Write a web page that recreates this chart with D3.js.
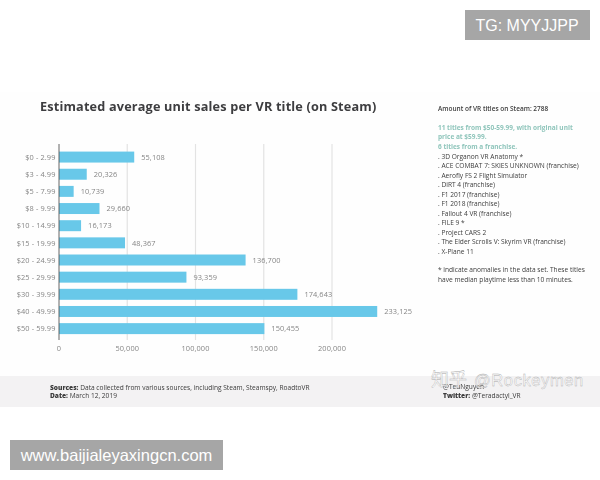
<!DOCTYPE html>
<html><head><meta charset="utf-8">
<script src="https://cdn.jsdelivr.net/npm/d3@7/dist/d3.min.js"></script>
<style>html,body{margin:0;padding:0;background:#fff}svg{display:block}text{font-family:"Open Sans",Lato,sans-serif}</style>
</head><body><svg id="c" width="600" height="480"></svg>
<script>
const categories=["$0 - 2.99","$3 - 4.99","$5 - 7.99","$8 - 9.99","$10 - 14.99","$15 - 19.99","$20 - 24.99","$25 - 29.99","$30 - 39.99","$40 - 49.99","$50 - 59.99"];
const values=[55108,20326,10739,29660,16173,48367,136700,93359,174643,233125,150455];
const xTicks=[0,50000,100000,150000,200000];
const titleText="Estimated average unit sales per VR title (on Steam)";
const sideHead=["Amount of VR titles on Steam: 2788"];
const sideTeal=["11 titles from $50-59.99, with original unit","price at $59.99.","6 titles from a franchise."];
const sideList=[". 3D Organon VR Anatomy *",". ACE COMBAT 7: SKIES UNKNOWN (franchise)",". Aerofly FS 2 Flight Simulator",". DiRT 4 (franchise)",". F1 2017 (franchise)",". F1 2018 (franchise)",". Fallout 4 VR (franchise)",". FILE 9 *",". Project CARS 2",". The Elder Scrolls V: Skyrim VR (franchise)",". X-Plane 11"];
const sideNote=["* indicate anomalies in the data set. These titles","have median playtime less than 10 minutes."];

const svg=d3.select("#c");
const defs=svg.append("defs");
defs.append("filter").attr("id","soft").append("feGaussianBlur").attr("stdDeviation",0.35);
const g=svg.append("g").attr("filter","url(#soft)");
g.append("rect").attr("x",0).attr("y",92).attr("width",600).attr("height",284).attr("fill","#fefefe");
g.append("rect").attr("x",0).attr("y",376).attr("width",600).attr("height",31).attr("fill","#f3f2f3");

const x=d3.scaleLinear().domain([0,200000]).range([59,332]);
const y=d3.scaleBand().domain(categories).range([148.5,337.2]).paddingInner(0.36).paddingOuter(0.18);

g.append("text").attr("x",40).attr("y",111).attr("font-size",12.7).attr("font-weight",700).attr("letter-spacing",0.17).attr("fill","#3d3d3f").text(titleText);

g.selectAll("line.grid").data(xTicks.slice(1)).join("line").attr("class","grid")
 .attr("x1",d=>x(d)).attr("x2",d=>x(d)).attr("y1",144).attr("y2",340).attr("stroke","#e3e3e3").attr("stroke-width",1.2);

g.selectAll("rect.bar").data(values).join("rect").attr("class","bar")
 .attr("x",x(0)).attr("y",(d,i)=>y(categories[i])).attr("width",d=>x(d)-x(0)).attr("height",y.bandwidth()).attr("fill","#68c8e9");

g.append("line").attr("x1",x(0)).attr("x2",x(0)).attr("y1",144).attr("y2",340).attr("stroke","#555").attr("stroke-width",0.9);

g.selectAll("text.cat").data(categories).join("text").attr("class","cat")
 .attr("x",55.5).attr("y",d=>y(d)+y.bandwidth()/2+2.7).attr("text-anchor","end").attr("font-size",7.4).attr("letter-spacing",0.1).attr("fill","#858585").text(d=>d);

g.selectAll("text.val").data(values).join("text").attr("class","val")
 .attr("x",d=>x(d)+7).attr("y",(d,i)=>y(categories[i])+y.bandwidth()/2+2.7).attr("font-size",7.4).attr("letter-spacing",0.1).attr("fill","#858585").text(d=>d3.format(",")(d));

g.selectAll("text.tick").data(xTicks).join("text").attr("class","tick")
 .attr("x",d=>x(d)).attr("y",351).attr("text-anchor","middle").attr("font-size",7.4).attr("letter-spacing",0.1).attr("fill","#858585").text(d=>d3.format(",")(d));

function lines(arr,y0,dy,color,weight,size){
  g.append("g").selectAll("text").data(arr).join("text").attr("x",438).attr("y",(d,i)=>y0+i*dy)
   .attr("font-size",size).attr("font-weight",weight).attr("fill",color).text(d=>d);
}
lines(sideHead,110.5,9.5,"#3c3c3c",600,6.5);
lines(sideTeal,129.5,9.5,"#8fc5bb",700,6.5);
lines(sideList,158.5,9.5,"#3c3c3c",400,6.6);
lines(sideNote,272,9.5,"#3c3c3c",400,6.6);

function foot(x0,yy,b,r){
  const t=g.append("text").attr("x",x0).attr("y",yy).attr("font-size",6.6).attr("fill","#3a3a3a");
  t.append("tspan").attr("font-weight",800).text(b);
  t.append("tspan").attr("font-weight",400).text(r);
}
foot(50,389.5,"Sources: ","Data collected from various sources, including Steam, Steamspy, RoadtoVR");
foot(50,398,"Date: ","March 12, 2019");
foot(443,389,"","@TeuNguyen");
foot(443,398,"Twitter: ","@Teradactyl_VR");

svg.append("text").attr("x",431).attr("y",386).attr("font-size",18).attr("fill","#fff").attr("fill-opacity",0.75).attr("stroke","#a9a9a9").attr("stroke-width",0.35)
 .style("font-family",'"Noto Sans CJK SC"').text("知乎");
svg.append("text").attr("x",474).attr("y",386).attr("font-size",16.5).attr("letter-spacing",0.6).attr("fill","#fff").attr("fill-opacity",0.75).attr("stroke","#a9a9a9").attr("stroke-width",0.35)
 .style("font-family","Liberation Sans").text("@Rockeymen");

svg.append("rect").attr("x",465).attr("y",10).attr("width",125).attr("height",30).attr("fill","#a6a6a6");
svg.append("text").attr("x",527).attr("y",31).attr("text-anchor","middle").attr("font-size",16).attr("fill","#fff").style("font-family","Liberation Sans").text("TG: MYYJJPP");
svg.append("rect").attr("x",10).attr("y",440).attr("width",213).attr("height",30).attr("fill","#a6a6a6");
svg.append("text").attr("x",116.5).attr("y",460.5).attr("text-anchor","middle").attr("font-size",16.5).attr("fill","#fff").style("font-family","Liberation Sans").text("www.baijialeyaxingcn.com");
</script></body></html>
